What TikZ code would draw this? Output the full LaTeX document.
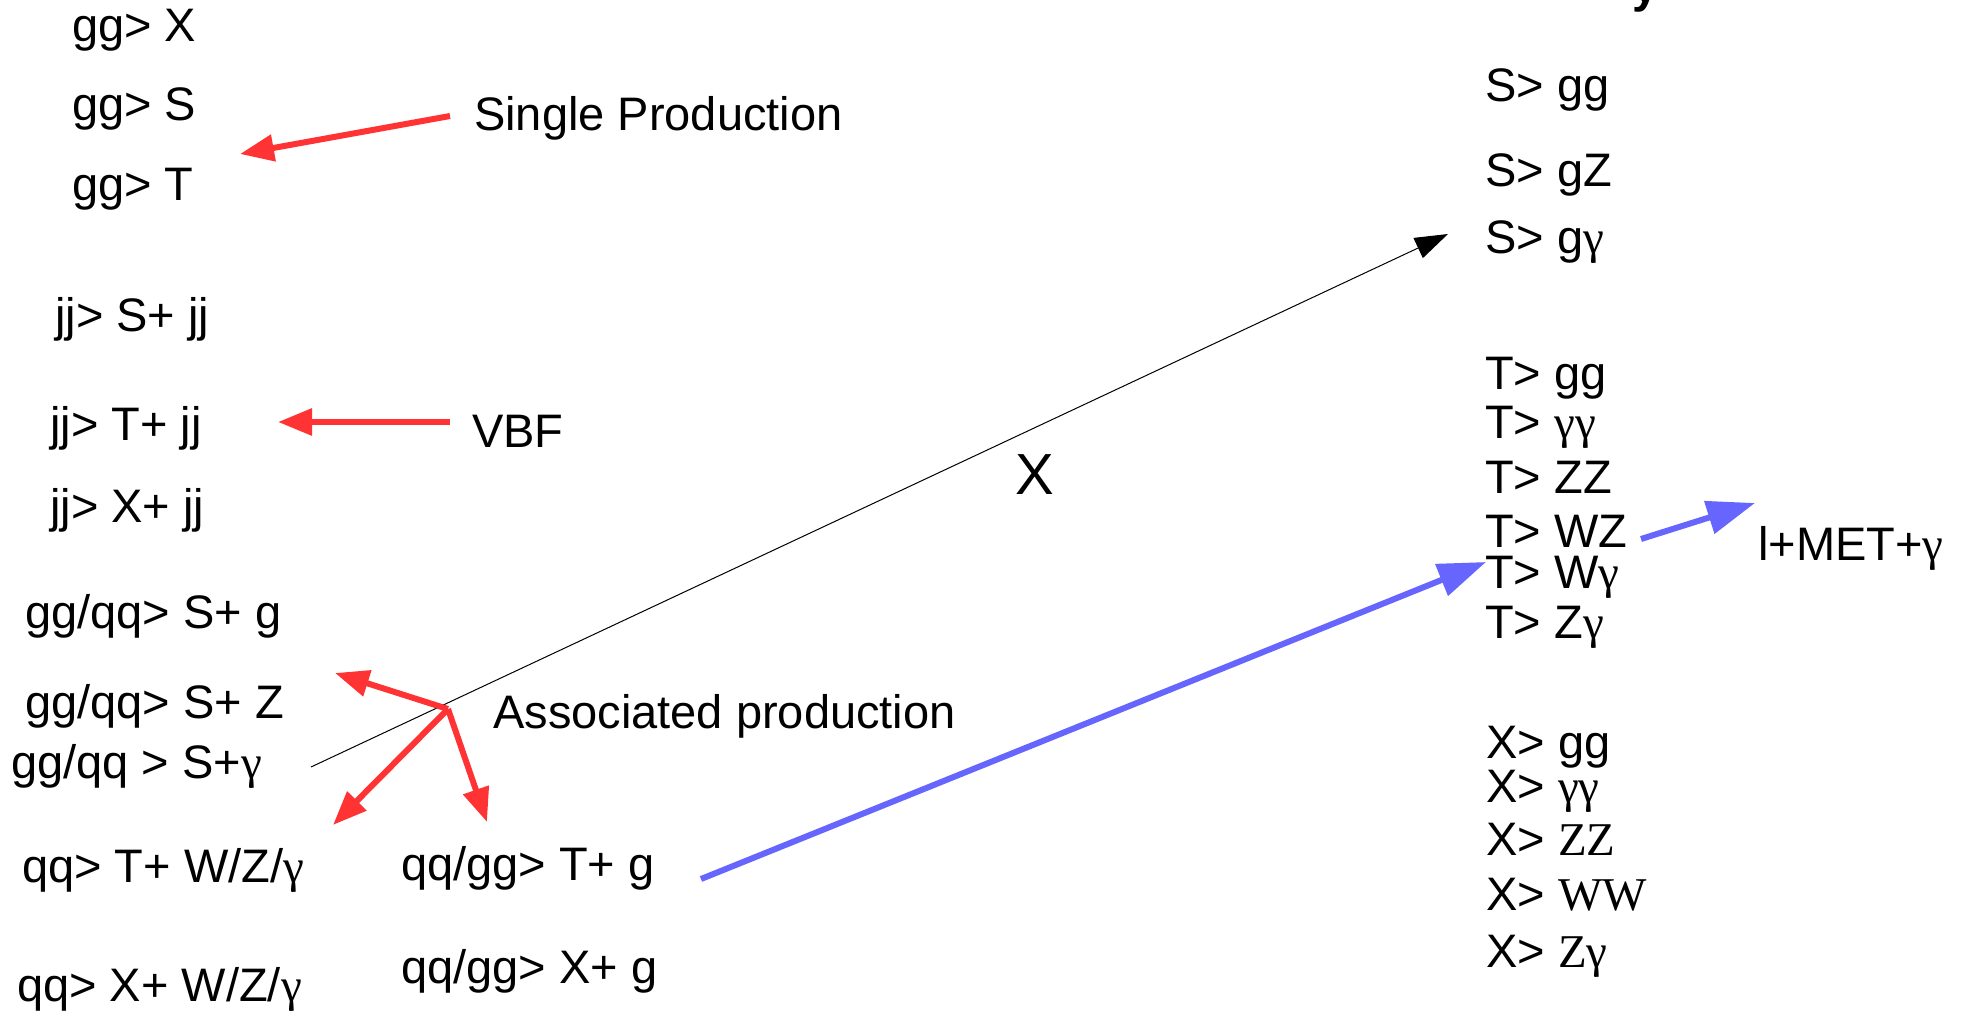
\documentclass[tikz,border=0pt]{standalone}
\usepackage{fontspec}
\setmainfont{Liberation Sans}
\newfontfamily\serifg{Liberation Serif}
\usetikzlibrary{arrows.meta}
\definecolor{redA}{HTML}{FF3333}
\definecolor{blueA}{HTML}{6666FF}
\newcommand{\gam}{{\serifg γ}}
\newcommand{\srf}[1]{{\serifg #1}}
\begin{document}
\begin{tikzpicture}[x=1pt,y=-1pt,
  lbl/.style={anchor=base west,inner sep=0pt,font=\fontsize{47}{56}\selectfont},
  redarrow/.style={draw=redA,line width=6pt,-{Triangle[length=34pt,width=26pt]}},
  bluearrow/.style={draw=blueA,line width=6pt,-{Triangle[length=48pt,width=33pt]}},
  thinarrow/.style={draw=black,line width=1pt,-{Triangle[length=33pt,width=22pt]}}]
\useasboundingbox (0,0) rectangle (1961,1012);
% left column
\node[lbl] (p1) at (72,41) {gg> X};
\node[lbl] (p2) at (72,120) {gg> S};
\node[lbl] (p3) at (72,200) {gg> T};
\node[lbl] (p4) at (55,331) {jj> S+ jj};
\node[lbl] (p5) at (50,440) {jj> T+ jj};
\node[lbl] (p6) at (50,522) {jj> X+ jj};
\node[lbl] (p7) at (25,628) {gg/qq> S+ g};
\node[lbl] (p8) at (25,718) {gg/qq> S+ Z};
\node[lbl] (p9) at (11,778) {gg/qq > S+\gam};
\node[lbl] (p10) at (22,882) {qq> T+ W/Z/\gam};
\node[lbl] (p11) at (17,1001) {qq> X+ W/Z/\gam};
\node[lbl] (p12) at (401,880) {qq/gg> T+ g};
\node[lbl] (p13) at (401,983) {qq/gg> X+ g};
% labels
\node[lbl] (lsp) at (474,130) {Single Production};
\node[lbl] (lvbf) at (472,447) {VBF};
\node[lbl] (lap) at (493,728) {Associated production};
\node[anchor=base,inner sep=0pt,font=\fontsize{58}{70}\selectfont] (xmid) at (1035,494) {X};
\node[anchor=base west,inner sep=0pt,font=\fontsize{47}{56}\selectfont\bfseries] (cut) at (1632,2) {y};
% right column
\node[lbl] (s1) at (1485,101) {S> gg};
\node[lbl] (s2) at (1485,186) {S> gZ};
\node[lbl] (s3) at (1485,253) {S> g\gam};
\node[lbl] (t1) at (1485,389) {T> gg};
\node[lbl] (t2) at (1485,438) {T> \gam\gam};
\node[lbl] (t3) at (1485,493) {T> ZZ};
\node[lbl] (t4) at (1485,547) {T> WZ};
\node[lbl] (t5) at (1485,588) {T> W\gam};
\node[lbl] (t6) at (1485,638) {T> Z\gam};
\node[lbl] (met) at (1758,560) {l+MET+\gam};
\node[lbl] (x1) at (1486,758) {X> gg};
\node[lbl] (x2) at (1486,802) {X> \gam\gam};
\node[lbl] (x3) at (1486,855) {X> \srf{ZZ}};
\node[lbl] (x4) at (1486,910) {X> \srf{WW}};
\node[lbl] (x5) at (1486,967) {X> \srf{Z\gam}};
% arrow end points
\coordinate (spS) at (450,116); \coordinate (spE) at (240,154);
\coordinate (vbS) at (450,422); \coordinate (vbE) at (278,422);
\coordinate (apC) at (448,709);
\coordinate (ap1) at (335,673); \coordinate (ap2) at (333,825); \coordinate (ap3) at (487,822);
\coordinate (bkS) at (311,767); \coordinate (bkE) at (1448,234);
\coordinate (blS) at (701,879); \coordinate (blE) at (1486,562);
\coordinate (bsS) at (1641,539); \coordinate (bsE) at (1755,503);
% arrows
\draw[thinarrow] (bkS) -- (bkE);
\draw[redarrow] (spS) -- (spE);
\draw[redarrow] (vbS) -- (vbE);
\draw[redarrow] (apC) -- (ap1);
\draw[redarrow] (apC) -- (ap2);
\draw[redarrow] (apC) -- (ap3);
\draw[bluearrow] (blS) -- (blE);
\draw[bluearrow] (bsS) -- (bsE);
\end{tikzpicture}
\end{document}
